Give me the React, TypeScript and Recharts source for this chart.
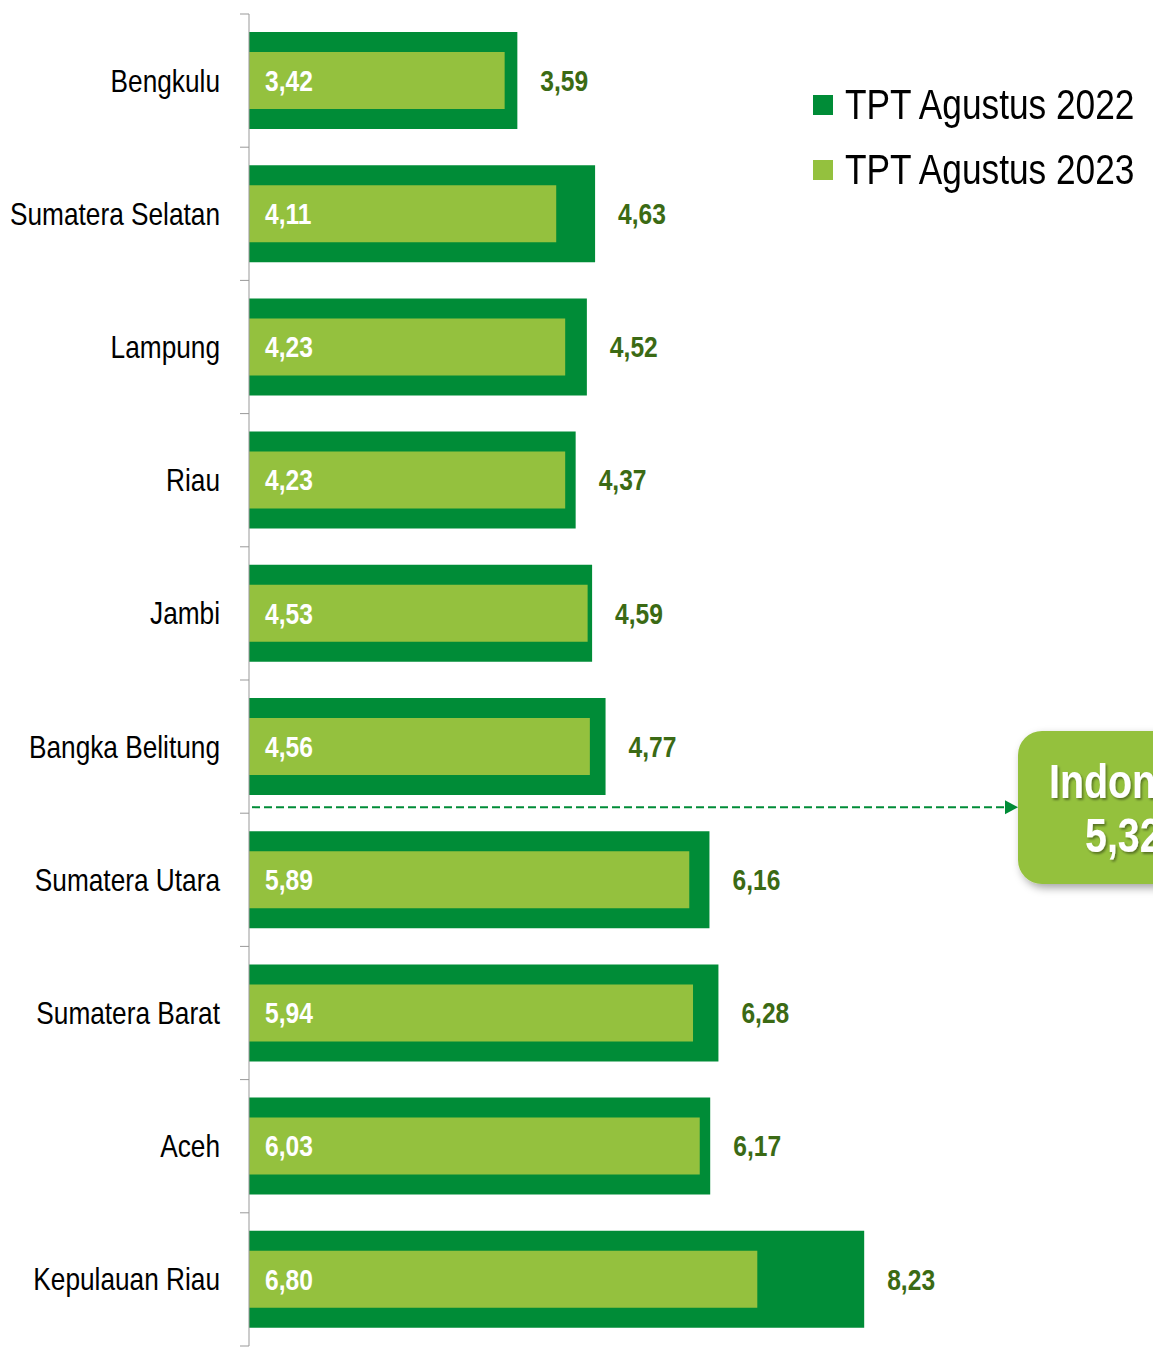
import { BarChart, Bar, XAxis, YAxis, LabelList, Legend } from 'recharts';

const provinces = [
  'Bengkulu',
  'Sumatera Selatan',
  'Lampung',
  'Riau',
  'Jambi',
  'Bangka Belitung',
  'Sumatera Utara',
  'Sumatera Barat',
  'Aceh',
  'Kepulauan Riau',
];
const tpt2022 = [3.59, 4.63, 4.52, 4.37, 4.59, 4.77, 6.16, 6.28, 6.17, 8.23];
const tpt2023 = [3.42, 4.11, 4.23, 4.23, 4.53, 4.56, 5.89, 5.94, 6.03, 6.8];
const nationalLabel = 'Indonesia';
const nationalValue = 5.32;

const DARK = '#008c37';
const LIGHT = '#94c13e';
const VALUE_DARK = '#3b6a14';
const FONT = "'Liberation Sans', Arial, sans-serif";
const NARROW = 0.82;

const W = 1153;
const H = 1347;
const TOP = 14;
const BOTTOM = 1;
const LEFT = 249;
const band = (H - TOP - BOTTOM) / provinces.length;

const data = provinces.map((name, i) => ({
  name,
  y2022: tpt2022[i],
  y2023: tpt2023[i],
}));

const fmt = (v: any) => Number(v).toFixed(2).replace('.', ',');

// Arial Narrow look-alike: Liberation Sans squeezed horizontally
const NarrowText = ({ x, y, anchor = 'start', size, weight = 'normal', fill, filter, children }: any) => (
  <text
    transform={`translate(${x} ${y}) scale(${NARROW} 1)`}
    textAnchor={anchor}
    dominantBaseline="central"
    fontFamily={FONT}
    fontSize={size}
    fontWeight={weight}
    fill={fill}
    filter={filter}
  >
    {children}
  </text>
);

const CategoryTick = (props: any) => {
  const { x, y, payload, index } = props;
  const top = y - band / 2;
  return (
    <g>
      <line x1={x + 20} x2={x + 29} y1={top} y2={top} stroke="#999" />
      {index === provinces.length - 1 && (
        <line x1={x + 20} x2={x + 29} y1={top + band} y2={top + band} stroke="#999" />
      )}
      <NarrowText x={x} y={y} anchor="end" size={32} fill="#000">
        {payload.value}
      </NarrowText>
    </g>
  );
};

const OuterLabel = (props: any) => {
  const { x, y, width, height, value } = props;
  return (
    <NarrowText x={x + width + 23} y={y + height / 2} size={30} weight="bold" fill={VALUE_DARK}>
      {fmt(value)}
    </NarrowText>
  );
};

const InnerLabel = (props: any) => {
  const { x, y, height, value } = props;
  return (
    <NarrowText x={x + 16} y={y + height / 2} size={30} weight="bold" fill="#fff">
      {fmt(value)}
    </NarrowText>
  );
};

const LegendContent = () => {
  const items = [
    { color: DARK, label: 'TPT Agustus 2022' },
    { color: LIGHT, label: 'TPT Agustus 2023' },
  ];
  return (
    <div style={{ fontFamily: FONT, width: 340 }}>
      {items.map((it) => (
        <div key={it.label} style={{ display: 'flex', alignItems: 'center', height: 65 }}>
          <span style={{ width: 20, height: 20, background: it.color, marginRight: 12, flex: 'none' }} />
          <span
            style={{
              fontSize: 43,
              color: '#000',
              lineHeight: '65px',
              whiteSpace: 'nowrap',
              display: 'inline-block',
              transform: `scaleX(${NARROW})`,
              transformOrigin: 'left center',
            }}
          >
            {it.label}
          </span>
        </div>
      ))}
    </div>
  );
};

export default function App() {
  const lineY = TOP + band * 6 - 6;
  return (
    <div style={{ position: 'absolute', left: 0, top: 0, width: W, height: H, overflow: 'hidden', background: '#fff' }}>
      <BarChart
        width={W}
        height={H}
        data={data}
        layout="vertical"
        margin={{ top: TOP, right: 7, bottom: BOTTOM, left: 0 }}
      >
        <XAxis type="number" domain={[0, 12]} allowDataOverflow hide />
        <YAxis
          type="category"
          dataKey="name"
          width={LEFT}
          axisLine={{ stroke: '#999' }}
          tickLine={false}
          tickSize={0}
          tickMargin={29}
          tick={<CategoryTick />}
          interval={0}
        />
        <YAxis yAxisId="inner" type="category" dataKey="name" hide />
        <Legend
          layout="vertical"
          verticalAlign="middle"
          align="center"
          content={<LegendContent />}
          wrapperStyle={{ top: 72, left: 813, width: 340 }}
        />
        <Bar dataKey="y2022" fill={DARK} barSize={97} isAnimationActive={false}>
          <LabelList dataKey="y2022" content={<OuterLabel />} />
        </Bar>
        <Bar dataKey="y2023" yAxisId="inner" fill={LIGHT} barSize={57} isAnimationActive={false}>
          <LabelList dataKey="y2023" content={<InnerLabel />} />
        </Bar>
      </BarChart>
      <svg
        width={W}
        height={H}
        style={{ position: 'absolute', left: 0, top: 0, pointerEvents: 'none' }}
      >
        <defs>
          <filter id="shadow" x="-20%" y="-20%" width="140%" height="140%">
            <feDropShadow dx="3" dy="4" stdDeviation="4" floodColor="#000" floodOpacity="0.35" />
          </filter>
          <filter id="tshadow" x="-20%" y="-20%" width="140%" height="140%">
            <feDropShadow dx="2" dy="2" stdDeviation="1" floodColor="#000" floodOpacity="0.4" />
          </filter>
        </defs>
        <line
          x1={252}
          x2={1006}
          y1={lineY}
          y2={lineY}
          stroke={DARK}
          strokeWidth={2}
          strokeDasharray="8 4"
        />
        <polygon points={`1005,${lineY - 7} 1018,${lineY} 1005,${lineY + 7}`} fill={DARK} />
        <rect x={1018} y={731} width={220} height={153} rx={24} fill={LIGHT} filter="url(#shadow)" />
        <NarrowText x={1049} y={781} size={48} weight="bold" fill="#fff" filter="url(#tshadow)">
          {nationalLabel}
        </NarrowText>
        <NarrowText x={1085} y={835} size={48} weight="bold" fill="#fff" filter="url(#tshadow)">
          {fmt(nationalValue)}
        </NarrowText>
      </svg>
    </div>
  );
}
